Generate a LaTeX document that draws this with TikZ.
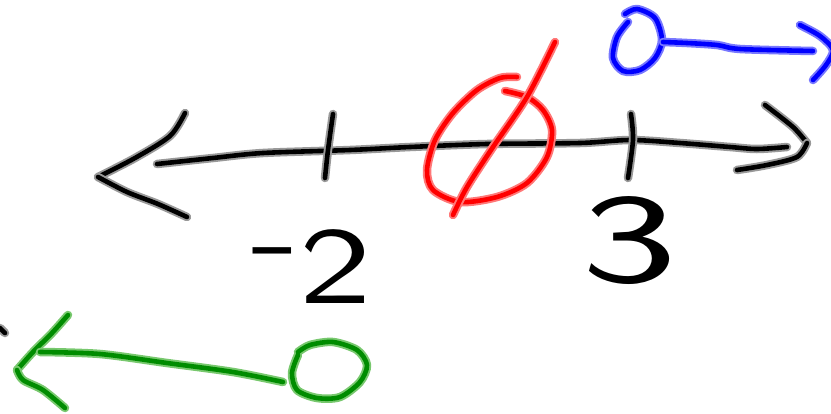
\documentclass[tikz,border=0pt]{standalone}
\usepackage{graphicx}
\definecolor{greencore}{RGB}{0,140,0}
\definecolor{greenhalo}{RGB}{120,200,110}
\definecolor{redhalo}{RGB}{255,120,120}
\definecolor{bluehalo}{RGB}{120,120,255}
\begin{document}
\begin{tikzpicture}[x=1pt,y=-1pt,
  inkbase/.style={line cap=round, line join=round, line width=4.6pt},
  blk/.style={inkbase, black, preaction={draw, line width=8.5pt, black!40, line cap=round, line join=round}},
  redink/.style={inkbase, red, preaction={draw, line width=8.5pt, redhalo, line cap=round, line join=round}},
  blueink/.style={inkbase, blue, preaction={draw, line width=8.5pt, bluehalo, line cap=round, line join=round}},
  greenink/.style={inkbase, greencore, preaction={draw, line width=8.5pt, greenhalo, line cap=round, line join=round}},
  lbl/.style={font=\sffamily, inner sep=0pt, text=black}]
\useasboundingbox (0,0) rectangle (831,413);
% main number line
\draw[blk] plot[smooth] coordinates {(157,164) (213,158) (263,153) (350,150) (410,147) (487,144) (580,143) (630,140) (680,143) (730,147) (757,149) (787,147)};
% left arrowhead
\draw[blk] plot[smooth] coordinates {(185,113) (170,136) (135,158) (98,177)};
\draw[blk] plot[smooth] coordinates {(98,177) (127,192) (158,204) (187,217)};
% right arrowhead
\draw[blk] plot[smooth] coordinates {(765,105) (793,127) (807,143)};
\draw[blk] plot[smooth] coordinates {(807,143) (797,157) (767,165) (737,170)};
% ticks
\draw[blk] plot[smooth] coordinates {(333,114) (328,150) (325,178)};
\draw[blk] plot[smooth] coordinates {(631,114) (633,140) (628,178)};
% labels
\node[lbl, font=\sffamily\fontsize{110}{110}\selectfont] (mtwo) at (312,267) {\scalebox{1.4}[1]{\raisebox{0.27em}{-}2}};
\node[lbl, font=\sffamily\fontsize{128}{128}\selectfont] (three) at (630,241) {\scalebox{1.6}[1]{3}};
% red slashed zero
\draw[redink] plot[smooth] coordinates {(517,77) (500,78) (477,90) (453,113) (435,140) (427,170) (433,190) (460,202) (497,197) (527,183) (547,157) (552,130) (543,110) (527,97) (505,91)};
\draw[redink] plot[smooth] coordinates {(555,42) (527,97) (493,147) (467,187) (453,215)};
% blue open circle and ray
\draw[blueink] plot[smooth] coordinates {(628,22) (617,37) (613,58) (623,71) (640,70) (655,58) (662,40) (655,18) (637,9) (625,14)};
\draw[blueink] plot[smooth] coordinates {(663,42) (687,43) (717,45) (740,49) (813,51)};
\draw[blueink] plot[smooth] coordinates {(800,25) (820,36) (833,50) (826,65) (813,80)};
% green open circle and ray
\draw[greenink] plot[smooth] coordinates {(68,315) (52,333) (33,352) (17,370)};
\draw[greenink] plot[smooth] coordinates {(17,370) (23,380) (43,390) (65,408)};
\draw[greenink] plot[smooth] coordinates {(40,352) (100,354) (167,363) (233,372) (283,382)};
\draw[greenink] plot[smooth] coordinates {(298,352) (310,345) (333,342) (357,350) (367,365) (360,382) (340,397) (317,398) (297,390) (292,373) (298,355)};
% small black mark at left edge
\draw[blk] (0,328) -- (5,333);
\end{tikzpicture}
\end{document}
